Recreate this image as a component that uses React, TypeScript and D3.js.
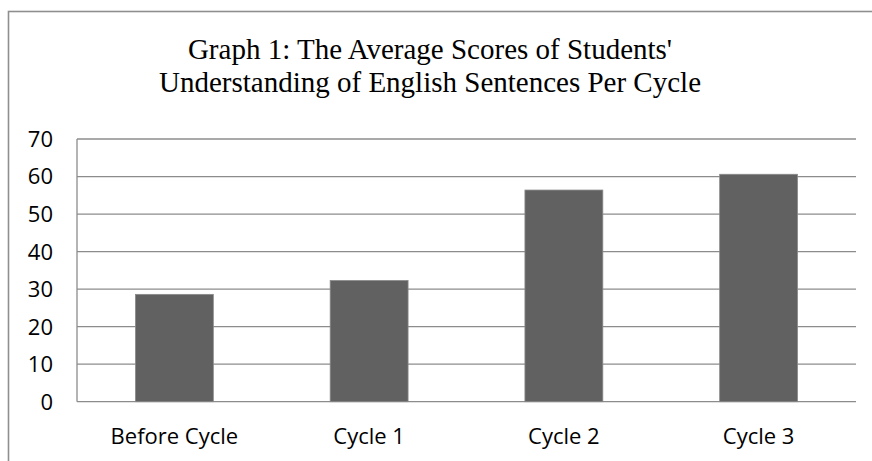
import * as d3 from 'd3';
import React from 'react';

// chart data
const categories = ['Before Cycle', 'Cycle 1', 'Cycle 2', 'Cycle 3'];
const scores = [28.6, 32.3, 56.4, 60.6];
const yTicks = [0, 10, 20, 30, 40, 50, 60, 70];
const titleLines = [
	"Graph 1: The Average Scores of Students'",
	'Understanding of English Sentences Per Cycle'
];

const W = 872;
const H = 461;
const margin = { top: 139, right: 16, bottom: 59.3, left: 77 };

const App = () => {
	const xscale = d3.scaleBand()
		.domain(categories)
		.range([margin.left, W - margin.right])
		.paddingInner(0.6)
		.paddingOuter(0.3);

	const yscale = d3.scaleLinear()
		.domain([0, 70])
		.range([H - margin.bottom, margin.top]);

	const gridColor = '#8c8c8c';
	const labelFont = "'Open Sans', sans-serif";

	return (
		<div style={{ position: 'absolute', left: 0, top: 0 }}>
			<svg width={W} height={H} style={{ display: 'block', background: '#fff' }}>
				{/* outer chart border, cropped at right and bottom */}
				<rect x={8.5} y={11.5} width={W + 20} height={H + 20}
					fill="none" stroke="#8f8f8f" strokeWidth={1.6} />

				{titleLines.map((t, i) => (
					<text key={i} x={430} y={59 + i * 33} textAnchor="middle"
						style={{ fontFamily: "'Liberation Serif', serif", fontSize: 29 }} fill="#000">
						{t}
					</text>
				))}

				{/* gridlines */}
				{yTicks.map(t => (
					<line key={t} x1={margin.left} x2={W - margin.right}
						y1={yscale(t)} y2={yscale(t)} stroke={gridColor} strokeWidth={1.3} />
				))}
				<line x1={margin.left} x2={margin.left} y1={yscale(70)} y2={yscale(0)}
					stroke={gridColor} strokeWidth={1.3} />

				{/* y tick labels */}
				{yTicks.map(t => (
					<text key={'l' + t} x={53} y={yscale(t)} dy="0.36em" textAnchor="end"
						style={{ fontFamily: labelFont, fontSize: 22 }} fill="#000">
						{t}
					</text>
				))}

				{/* bars */}
				{categories.map((c, i) => (
					<rect key={c} x={xscale(c)} y={yscale(scores[i])}
						width={xscale.bandwidth()} height={yscale(0) - yscale(scores[i])}
						fill="#616161" stroke="#8a8a8a" strokeWidth={0.8} />
				))}

				{/* category labels */}
				{categories.map(c => (
					<text key={'c' + c} x={(xscale(c) ?? 0) + xscale.bandwidth() / 2} y={444.3}
						textAnchor="middle" style={{ fontFamily: labelFont, fontSize: 22 }} fill="#000">
						{c}
					</text>
				))}
			</svg>
		</div>
	);
};

export default App;
